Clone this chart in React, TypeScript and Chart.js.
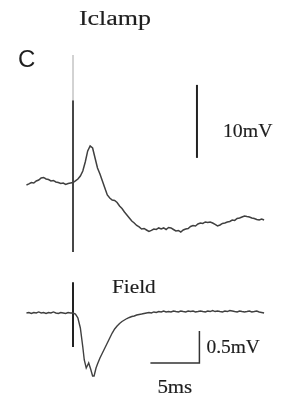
import React, { useEffect, useRef } from "react";
import { Chart, registerables } from "chart.js";

Chart.register(...registerables);

// ---- Data (time in ms relative to stimulus, voltage in mV relative to baseline) ----
const iclampTime = [-4.75,-4.5,-4.25,-4,-3.75,-3.5,-3.25,-3,-2.75,-2.5,-2.25,-2,-1.75,-1.5,-1.25,-1,-0.75,-0.5,-0.25,0,0.25,0.5,0.75,1,1.25,1.5,1.75,2,2.25,2.5,2.75,3,3.25,3.5,3.75,4,4.25,4.5,4.75,5,5.25,5.5,5.75,6,6.25,6.5,6.75,7,7.25,7.5,7.75,8,8.25,8.5,8.75,9,9.25,9.5,9.75,10,10.25,10.5,10.75,11,11.25,11.5,11.75,12,12.25,12.5,12.75,13,13.25,13.5,13.75,14,14.25,14.5,14.75,15,15.25,15.5,15.75,16,16.25,16.5,16.75,17,17.25,17.5,17.75,18,18.25,18.5,18.75,19,19.25,19.5];
const iclampMv = [
  -0.41,-0.27,-0.07,-0.14,0.14,0.27,0.55,0.62,0.41,0.34,
  0.14,0.21,0,-0.07,-0.21,-0.14,-0.34,-0.21,-0.14,-0.07,
  0.14,0.41,0.82,1.51,2.74,4.25,4.93,4.66,3.29,1.92,
  1.10,0.14,-0.82,-1.78,-2.19,-2.47,-2.53,-2.81,-3.29,-3.63,
  -4.11,-4.52,-4.93,-5.34,-5.62,-5.96,-6.16,-6.44,-6.37,-6.58,
  -6.78,-6.64,-6.44,-6.51,-6.30,-6.44,-6.30,-6.51,-6.23,-6.30,
  -6.51,-6.71,-6.64,-6.85,-6.58,-6.44,-6.37,-6.10,-5.96,-6.03,
  -5.75,-5.62,-5.68,-5.48,-5.55,-5.48,-5.62,-5.82,-6.03,-5.89,
  -5.68,-5.62,-5.48,-5.41,-5.21,-5.27,-5.00,-4.93,-4.79,-4.66,
  -4.73,-4.79,-4.93,-5.00,-5.14,-5.21,-5.07,-5.21
];

const fieldTime = [-4.75,-4.5,-4.25,-4,-3.75,-3.5,-3.25,-3,-2.75,-2.5,-2.25,-2,-1.75,-1.5,-1.25,-1,-0.75,-0.5,-0.25,0,0.25,0.5,0.75,
  1,1.15,1.35,1.5,1.6,1.8,2,2.15,2.35,2.5,
  2.75,3,3.25,3.5,3.75,4,4.25,4.5,4.75,5,5.25,5.5,5.75,6,6.25,6.5,6.75,7,7.25,7.5,7.75,8,8.25,8.5,8.75,9,9.25,9.5,9.75,10,10.25,10.5,10.75,11,11.25,11.5,11.75,12,12.25,12.5,12.75,13,13.25,13.5,13.75,14,14.25,14.5,14.75,15,15.25,15.5,15.75,16,16.25,16.5,16.75,17,17.25,17.5,17.75,18,18.25,18.5,18.75,19,19.25,19.5];
const fieldMv = [
  0,0.008,-0.008,0.008,0,0.016,0,0.008,-0.008,0.008,0,0.016,0,-0.008,0.008,0,-0.008,0.008,0,0,
  -0.016,-0.078,-0.234,
  -0.531,-0.734,-0.859,-0.813,-0.781,-0.875,-0.984,-0.984,-0.859,-0.797,
  -0.703,-0.625,-0.547,-0.469,-0.391,-0.313,-0.25,-0.203,-0.164,-0.133,-0.109,-0.086,-0.07,-0.055,-0.047,-0.031,-0.023,-0.016,-0.008,0,
  0.008,0,0.016,0.008,0.023,0.016,0.031,0.016,0.023,0.016,
  0.031,0.023,0.016,0.031,0.023,0.016,0.031,0.023,0.031,0.016,
  0.023,0.031,0.023,0.016,0.031,0.023,0.039,0.023,0.031,0.023,
  0.016,0.031,0.023,0.039,0.031,0.023,0.016,0.031,0.023,0.016,
  0.023,0.031,0.016,0.023,0.031,0.016,0.008,0
];

// Stimulus artifacts (time, start/end voltage)
const artifactTime = 0;
const iclampArtifactFaintMv = [17.4, 11.2];
const iclampArtifactMv = [11.2, -9.6];
const fieldArtifactMv = [0.48, -0.53];

// Scale bars
const iclampBarTime = 12.65;
const iclampBarMv = [3.3, 13.3]; // 10 mV
const fieldBarTime = [7.9, 12.9]; // 5 ms
const fieldBarMv = [-0.78, -0.28]; // 0.5 mV

const W = 283;
const H = 396;

const pts = (xs: number[], ys: number[]) => xs.map((x, i) => ({ x, y: ys[i] }));

const labelPlugin = {
  id: "labels",
  afterDatasetsDraw(chart: any) {
    const ctx = chart.ctx;
    const x = chart.scales.x;
    const yI = chart.scales.yI;
    const yF = chart.scales.yF;
    const draw = (text: string, px: number, py: number, font: string, sx: number, align: CanvasTextAlign = "left", stroke = 0.15) => {
      ctx.save();
      ctx.translate(px, py);
      ctx.scale(sx, 1);
      ctx.font = font;
      ctx.fillStyle = "#1e1e1e";
      ctx.strokeStyle = "#1e1e1e";
      ctx.lineWidth = stroke;
      ctx.textAlign = align;
      ctx.textBaseline = "alphabetic";
      ctx.fillText(text, 0, 0);
      if (stroke > 0) ctx.strokeText(text, 0, 0);
      ctx.restore();
    };
    const serif = "'Liberation Serif', 'Times New Roman', serif";
    draw("Iclamp", 115, 25, `20px ${serif}`, 1.3, "center");
    draw("C", 18, 67, "24px 'Liberation Sans', Arial, sans-serif", 1, "left", 0);
    draw("10mV", x.getPixelForValue(iclampBarTime) + 26, yI.getPixelForValue((iclampBarMv[0] + iclampBarMv[1]) / 2) + 16, `18px ${serif}`, 1.1);
    draw("Field", 112, 293, `19px ${serif}`, 1.12);
    draw("0.5mV", x.getPixelForValue(fieldBarTime[1]) + 7, yF.getPixelForValue(fieldBarMv[0]) - 10, `18px ${serif}`, 1.08);
    draw("5ms", x.getPixelForValue(fieldBarTime[0]) + 7, yF.getPixelForValue(fieldBarMv[0]) + 30, `19px ${serif}`, 1.1);
  },
};

export default function App() {
  const ref = useRef<HTMLCanvasElement | null>(null);
  useEffect(() => {
    if (!ref.current) return;
    const line = (data: any[], axis: string, color: string, width: number) => ({
      data,
      yAxisID: axis,
      showLine: true,
      borderColor: color,
      borderWidth: width,
      pointRadius: 0,
      pointHoverRadius: 0,
      fill: false,
      tension: 0,
    });
    const chart = new Chart(ref.current, {
      type: "scatter",
      data: {
        datasets: [
          line(pts(iclampTime, iclampMv), "yI", "#404040", 1.5),
          line(pts(fieldTime, fieldMv), "yF", "#404040", 1.4),
          line(iclampArtifactFaintMv.map((y) => ({ x: artifactTime, y })), "yI", "#c8c8c8", 1.6),
          line(iclampArtifactMv.map((y) => ({ x: artifactTime, y })), "yI", "#333", 1.8),
          line(fieldArtifactMv.map((y) => ({ x: artifactTime, y })), "yF", "#222", 2),
          line(iclampBarMv.map((y) => ({ x: iclampBarTime, y })), "yI", "#222", 2),
          line([
            { x: fieldBarTime[0], y: fieldBarMv[0] },
            { x: fieldBarTime[1], y: fieldBarMv[0] },
            { x: fieldBarTime[1], y: fieldBarMv[1] },
          ], "yF", "#333", 1.5),
        ],
      },
      options: {
        responsive: false,
        animation: false,
        layout: { padding: 0 },
        plugins: { legend: { display: false }, title: { display: false }, tooltip: { enabled: false } },
        events: [],
        scales: {
          x: { type: "linear", display: false, min: -7.45, max: 21.43 },
          yI: { type: "linear", display: false, min: -29.32, max: 24.93 },
          yF: { type: "linear", display: false, min: -1.297, max: 4.891 },
        },
      },
      plugins: [labelPlugin],
    });
    return () => chart.destroy();
  }, []);
  return (
    <div style={{ position: "fixed", left: 0, top: 0, width: W, height: H, background: "#fff" }}>
      <canvas ref={ref} width={W} height={H} style={{ display: "block", width: W, height: H }} />
    </div>
  );
}
